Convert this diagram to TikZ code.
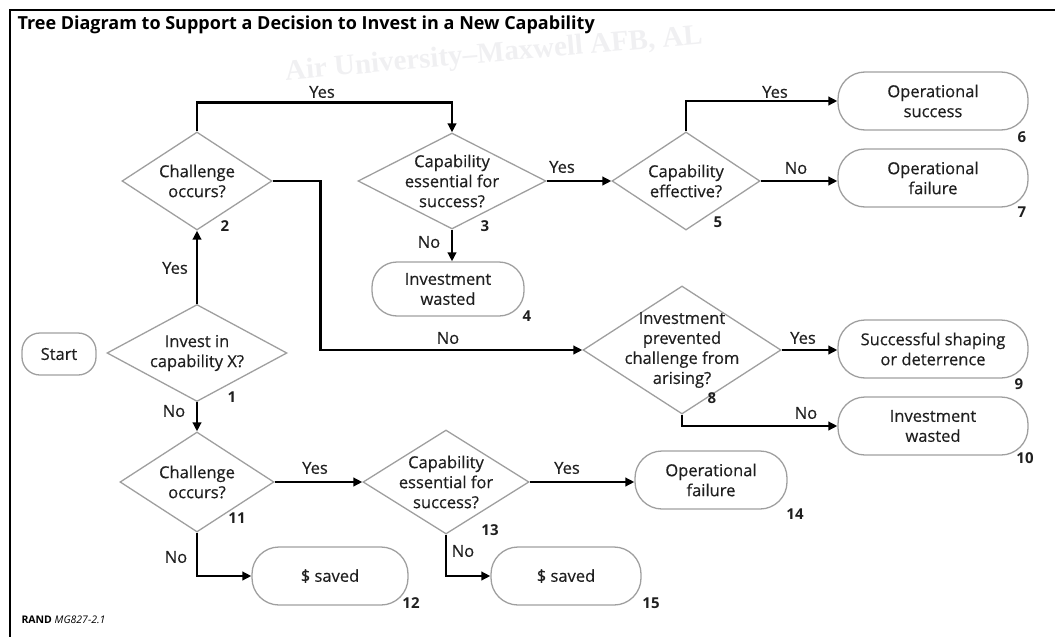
\documentclass[tikz,border=0pt]{standalone}
\usepackage{fontspec}
\setmainfont{Open Sans}
\newfontfamily\boxfont{Open Sans}[FakeBold=0.45]
\newfontfamily\wmfont{Liberation Serif}
\usetikzlibrary{arrows.meta,shapes.geometric,positioning}

\begin{document}
\begin{tikzpicture}[x=1pt, y=-1pt,
  txt/.style={font=\boxfont\fontsize{16.5}{20}\selectfont, text=black!88},
  dec/.style={txt, diamond, draw=gray!75, line width=1.3pt, align=center, inner sep=-8pt},
  term/.style={txt, draw=gray!75, line width=1.3pt, rounded corners=27pt, align=center, minimum height=58pt},
  yn/.style={txt},
  num/.style={txt, font=\bfseries\fontsize{15}{18}\selectfont},
  arr/.style={-{Triangle[length=9pt,width=8.5pt]}, line width=2.4pt}
]
\useasboundingbox (0,0) rectangle (1055,637);
% frame and heading
\node[font=\wmfont\bfseries\fontsize{29}{31}\selectfont, text=blue!5!gray!11, rotate=5] (wm) at (494,55) {Air University–Maxwell AFB, AL};
\draw[line width=2pt] (10,637) -- (10,10) -- (1055,10);
\node[anchor=west, font=\bfseries\fontsize{18}{21}\selectfont] (title) at (14,25) {Tree Diagram to Support a Decision to Invest in a New Capability};

% decisions
\node[dec, minimum width=180pt, minimum height=97pt, aspect=1.86] (d1) at (197,353) {Invest in\\capability X?};
\node[dec, minimum width=150pt, minimum height=98pt, aspect=1.53] (d2) at (197,181) {Challenge\\occurs?};
\node[dec, minimum width=188pt, minimum height=96pt, aspect=1.96] (d3) at (452,181) {Capability\\essential for\\success?};
\node[dec, minimum width=148pt, minimum height=98pt, aspect=1.51] (d5) at (686,181) {Capability\\effective?};
\node[dec, minimum width=198pt, minimum height=128pt, aspect=1.55] (d8) at (682,350) {Investment\\prevented\\challenge from\\arising?};
\node[dec, minimum width=154pt, minimum height=100pt, aspect=1.54] (d11) at (197,482) {Challenge\\occurs?};
\node[dec, minimum width=166pt, minimum height=104pt, aspect=1.6] (d13) at (446,482) {Capability\\essential for\\success?};

% outcomes
\node[term, minimum width=74pt, minimum height=42pt, rounded corners=18pt] (start) at (59,354) {Start};
\node[term, minimum width=152pt, minimum height=54pt, rounded corners=25pt] (t4) at (448,289) {Investment\\wasted};
\node[term, minimum width=190pt] (t6) at (933,101) {Operational\\success};
\node[term, minimum width=190pt] (t7) at (933,178) {Operational\\failure};
\node[term, minimum width=190pt] (t9) at (933,349) {Successful shaping\\or deterrence};
\node[term, minimum width=190pt] (t10) at (933,426) {Investment\\wasted};
\node[term, minimum width=152pt] (t14) at (711,480) {Operational\\failure};
\node[term, minimum width=156pt] (t12) at (330,576) {\$ saved};
\node[term, minimum width=150pt] (t15) at (566,576) {\$ saved};

% step numbers
\node[num] (n1) at (232,397) {1};
\node[num] (n2) at (225,226) {2};
\node[num] (n3) at (485,226) {3};
\node[num] (n4) at (527,316) {4};
\node[num] (n5) at (718,222) {5};
\node[num] (n6) at (1022,137) {6};
\node[num] (n7) at (1022,212) {7};
\node[num] (n8) at (712,398) {8};
\node[num] (n9) at (1019,384) {9};
\node[num] (n10) at (1025,458) {10};
\node[num] (n11) at (237,518) {11};
\node[num] (n12) at (411,603) {12};
\node[num] (n13) at (490,530) {13};
\node[num] (n14) at (795,514) {14};
\node[num] (n15) at (651,603) {15};

% branches
\draw[arr] (d1) -- (d2);
\draw[arr] (d1) -- (d11);
\draw[arr] (d2.north) -- ++(0,-29) -| (d3.north);
\draw[arr] (d2.east) -- ++(48,0) |- (d8.west);
\draw[arr] (d3) -- (d5);
\draw[arr] (d3.south) -- (d3.south |- t4.north);
\draw[arr] (d5.north) |- (t6.west);
\draw[arr] (d5.east) -- (d5.east -| t7.west);
\draw[arr] (d8.east) -- (d8.east -| t9.west);
\draw[arr] (d8.south) |- (t10.west);
\draw[arr] (d11) -- (d13);
\draw[arr] (d13.east) -- (d13.east -| t14.west);
\draw[arr] (d11.south) |- (t12.west);
\draw[arr] (d13.south) |- (t15.west);

% branch labels
\node[yn] (y12) at (175,268) {Yes};
\node[yn] (n111) at (174,411) {No};
\node[yn] (y23) at (322,92) {Yes};
\node[yn] (n28) at (448,338) {No};
\node[yn] (y35) at (562,167) {Yes};
\node[yn] (n34) at (429,242) {No};
\node[yn] (y56) at (775,92) {Yes};
\node[yn] (n57) at (796,168) {No};
\node[yn] (y89) at (803,338) {Yes};
\node[yn] (n810) at (806,413) {No};
\node[yn] (y1113) at (315,468) {Yes};
\node[yn] (y1314) at (567,468) {Yes};
\node[yn] (n1112) at (176,557) {No};
\node[yn] (n1315) at (463,551) {No};

\node[anchor=west, font=\fontsize{10.5}{12}\selectfont] (src) at (18,620) {\textbf{RAND} \textit{MG827-2.1}};
\end{tikzpicture}
\end{document}
